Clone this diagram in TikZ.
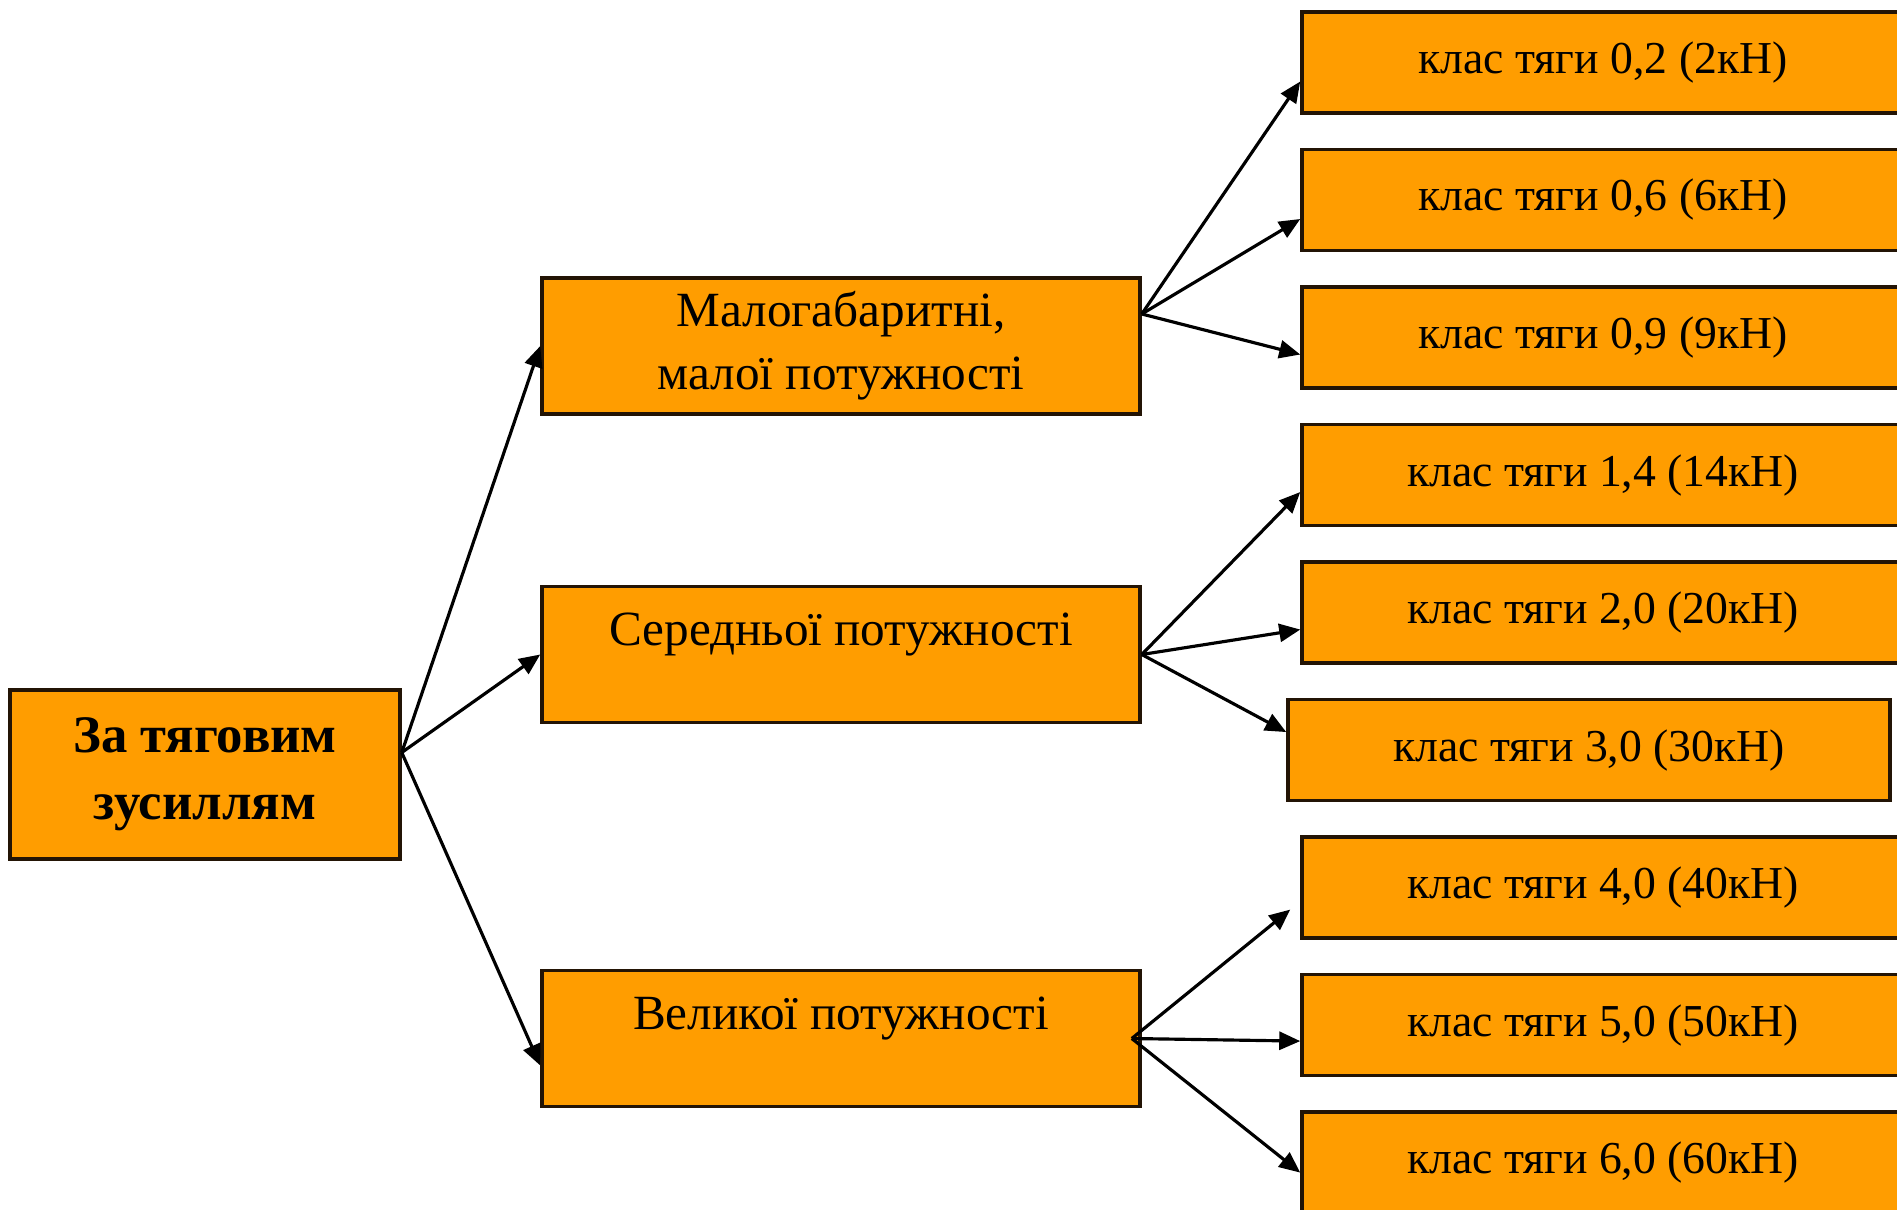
\documentclass[tikz,border=0pt]{standalone}
\usepackage{fontspec}
\setmainfont{Liberation Serif}
\usetikzlibrary{positioning,arrows.meta}

\definecolor{boxfill}{RGB}{255,157,0}
\definecolor{boxline}{RGB}{35,20,5}

\begin{document}
\begin{tikzpicture}[
    node distance=0.33cm and 1cm,
    rootbox/.style={rectangle, draw=boxline, fill=boxfill, line width=1pt,
        minimum width=3.9cm, minimum height=1.69cm, align=center,
        font=\fontsize{15}{19}\selectfont\bfseries},
    groupbox/.style={rectangle, draw=boxline, fill=boxfill, line width=1pt,
        minimum width=5.98cm, minimum height=1.36cm, align=center,
        font=\fontsize{14}{18}\selectfont},
    classbox/.style={rectangle, draw=boxline, fill=boxfill, line width=1pt,
        minimum width=6.02cm, minimum height=1.01cm,
        font=\fontsize{13}{15}\selectfont},
    lift/.style={text height=0.35cm, text depth=0.53cm},
    arr/.style={-{Triangle[length=2.1mm,width=1.8mm]}, line width=0.9pt}
]
    \useasboundingbox (0,0) rectangle (18.97,12.09);

    \node[rootbox] (root) at (2.05,4.345) {За тяговим\\зусиллям};

    \node[groupbox] (small) at (8.41,8.63) {Малогабаритні,\\малої потужності};
    \node[groupbox, lift] (medium) at (8.41,5.545) {Середньої потужності};
    \node[groupbox, lift] (large) at (8.41,1.705) {Великої потужності};

    \node[classbox] (c02) at (16.03,11.465) {клас тяги 0,2 (2кН)};
    \node[classbox, below=of c02] (c06) {клас тяги 0,6 (6кН)};
    \node[classbox, below=of c06] (c09) {клас тяги 0,9 (9кН)};
    \node[classbox, below=of c09] (c14) {клас тяги 1,4 (14кН)};
    \node[classbox, below=of c14] (c20) {клас тяги 2,0 (20кН)};
    \node[classbox, below=of c20, xshift=-0.14cm] (c30) {клас тяги 3,0 (30кН)};
    \node[classbox, below=of c30, xshift=0.14cm] (c40) {клас тяги 4,0 (40кН)};
    \node[classbox, below=of c40] (c50) {клас тяги 5,0 (50кН)};
    \node[classbox, below=of c50] (c60) {клас тяги 6,0 (60кН)};

    \draw[arr] ([yshift=0.22cm]root.east) -- (small.west);
    \draw[arr] ([yshift=0.22cm]root.east) -- (medium.west);
    \draw[arr] ([yshift=0.22cm]root.east) -- ([yshift=-0.27cm]large.west);

    \draw[arr] ([yshift=0.32cm]small.east) -- ([yshift=-0.19cm]c02.west);
    \draw[arr] ([yshift=0.32cm]small.east) -- ([yshift=-0.19cm]c06.west);
    \draw[arr] ([yshift=0.32cm]small.east) -- ([yshift=-0.17cm]c09.west);

    \draw[arr] (medium.east) -- ([yshift=-0.17cm]c14.west);
    \draw[arr] (medium.east) -- ([yshift=-0.17cm]c20.west);
    \draw[arr] (medium.east) -- ([yshift=0.18cm]c30.west);

    \draw[arr] ([xshift=-0.1cm]large.east) -- ([xshift=-0.1cm,yshift=-0.22cm]c40.west);
    \draw[arr] ([xshift=-0.1cm]large.east) -- ([yshift=-0.16cm]c50.west);
    \draw[arr] ([xshift=-0.1cm]large.east) -- ([yshift=-0.1cm]c60.west);
\end{tikzpicture}
\end{document}
